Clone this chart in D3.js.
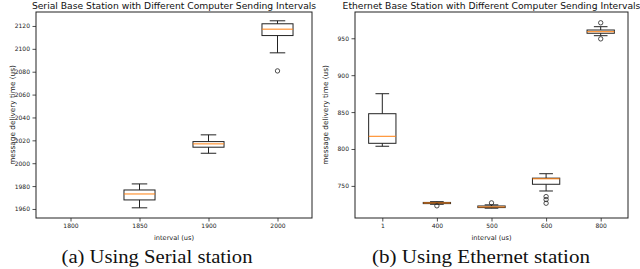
<!DOCTYPE html>
<html>
<head>
<meta charset="utf-8">
<script src="https://cdn.jsdelivr.net/npm/d3@7"></script>
<style>
  body { margin: 0; background: #fff; }
  svg { display: block; }
  .tick text { font-family: "DejaVu Sans", sans-serif; fill: #222; }
</style>
</head>
<body>
<div id="chart"></div>
<script>
// ----- data ----- //

// (a) serial station
var serialIntervals = ["1800", "1850", "1900", "2000"];
var serialWhisLo = [null, 1961, 2008.7, 2096.5];
var serialQ1 = [null, 1967.9, 2014, 2111.6];
var serialMed = [null, 1973.1, 2016.9, 2117.2];
var serialQ3 = [null, 1976.6, 2018.9, 2121.9];
var serialWhisHi = [null, 1981.9, 2024.8, 2124.5];
var serialFliers = [[], [], [], [2080.7]];
var serialTicks = [1960, 1980, 2000, 2020, 2040, 2060, 2080, 2100, 2120];

// (b) ethernet station
var ethIntervals = ["1", "400", "500", "600", "800"];
var ethWhisLo = [803.7, 725.1, 719.8, 743.1, 953.5];
var ethQ1 = [807.7, 726.0, 720.6, 752.2, 956.8];
var ethMed = [817.2, 726.9, 721.5, 759.6, 958.9];
var ethQ3 = [847.8, 727.6, 722.8, 760.5, 961.2];
var ethWhisHi = [874.9, 728.6, 724.3, 766.5, 965.7];
var ethFliers = [[], [723], [727], [735.5, 731.5, 726.5], [971, 949.2]];
var ethTicks = [750, 800, 850, 900, 950];

// ----- svg ----- //

var svg = d3.select("#chart")
    .append("svg")
    .attr("width", 640)
    .attr("height", 269);

function drawPanel(p) {

    var x = d3.scalePoint()
        .domain(p.cats)
        .range([p.left, p.right])
        .padding(0.5);

    var y = d3.scaleLinear()
        .domain(p.ydomain)
        .range([p.bottom, p.top]);

    var step = x.step();
    var bw = step * p.widthFrac;

    var g = svg.append("g");

    // boxes
    p.cats.forEach(function (c, i) {
        if (p.med[i] == null) return;
        var cx = x(c);
        var b = g.append("g").attr("class", "box");
        // whiskers
        b.append("line")
            .attr("x1", cx).attr("x2", cx)
            .attr("y1", y(p.q3[i])).attr("y2", y(p.hi[i]))
            .attr("stroke", "#222").attr("stroke-width", 1);
        b.append("line")
            .attr("x1", cx).attr("x2", cx)
            .attr("y1", y(p.q1[i])).attr("y2", y(p.lo[i]))
            .attr("stroke", "#222").attr("stroke-width", 1);
        // caps
        [p.hi[i], p.lo[i]].forEach(function (v) {
            b.append("line")
                .attr("x1", cx - bw / 4).attr("x2", cx + bw / 4)
                .attr("y1", y(v)).attr("y2", y(v))
                .attr("stroke", "#222").attr("stroke-width", 1);
        });
        // box
        b.append("rect")
            .attr("x", cx - bw / 2)
            .attr("y", y(p.q3[i]))
            .attr("width", bw)
            .attr("height", Math.max(0.5, y(p.q1[i]) - y(p.q3[i])))
            .attr("fill", "none")
            .attr("stroke", "#222")
            .attr("stroke-width", 1);
        // median
        b.append("line")
            .attr("x1", cx - bw / 2).attr("x2", cx + bw / 2)
            .attr("y1", y(p.med[i])).attr("y2", y(p.med[i]))
            .attr("stroke", "#ff7f0e").attr("stroke-width", 1);
        // fliers
        b.selectAll("circle")
            .data(p.fliers[i])
            .enter()
            .append("circle")
            .attr("cx", cx)
            .attr("cy", function (d) { return y(d); })
            .attr("r", 2.2)
            .attr("fill", "none")
            .attr("stroke", "#222")
            .attr("stroke-width", 0.8);
    });

    // axes
    var xAxis = g.append("g")
        .attr("transform", "translate(0," + p.bottom + ")")
        .call(d3.axisBottom(x).tickSize(3.5).tickPadding(2).tickSizeOuter(0));
    var yAxis = g.append("g")
        .attr("transform", "translate(" + p.left + ",0)")
        .call(d3.axisLeft(y).tickValues(p.ticks).tickFormat(d3.format("d")).tickSize(3.5).tickPadding(2.5).tickSizeOuter(0));

    [xAxis, yAxis].forEach(function (a) {
        a.select(".domain").remove();
        a.selectAll(".tick line").attr("stroke", "#222").attr("stroke-width", 0.8);
        a.selectAll(".tick text").attr("fill", "#222").style("font-size", "6px");
    });

    // frame
    g.append("rect")
        .attr("x", p.left)
        .attr("y", p.top)
        .attr("width", p.right - p.left)
        .attr("height", p.bottom - p.top)
        .attr("fill", "none")
        .attr("stroke", "#222")
        .attr("stroke-width", 1);

    // title
    var cx = (p.left + p.right) / 2;
    g.append("text")
        .attr("x", cx)
        .attr("y", 8.5)
        .attr("text-anchor", "middle")
        .style("font-family", "DejaVu Sans, sans-serif")
        .style("font-size", "9.2px")
        .style("fill", "#111")
        .text(p.title);

    // axis labels
    g.append("text")
        .attr("x", cx)
        .attr("y", p.bottom + 22)
        .attr("text-anchor", "middle")
        .style("font-family", "DejaVu Sans, sans-serif")
        .style("font-size", "6.6px")
        .style("fill", "#222")
        .text("interval (us)");

    g.append("text")
        .attr("transform", "translate(" + p.ylabelX + "," + (p.top + p.bottom) / 2 + ") rotate(-90)")
        .attr("text-anchor", "middle")
        .attr("dy", "0.35em")
        .style("font-family", "DejaVu Sans, sans-serif")
        .style("font-size", "7.3px")
        .style("fill", "#222")
        .text("message delivery time (us)");

    // caption
    g.append("text")
        .attr("x", p.captionX)
        .attr("y", 263)
        .attr("text-anchor", "middle")
        .attr("textLength", p.captionW)
        .attr("lengthAdjust", "spacingAndGlyphs")
        .style("font-family", "Liberation Serif, DejaVu Serif, serif")
        .style("font-size", "18.5px")
        .style("fill", "#111")
        .text(p.caption);
}

drawPanel({
    cats: serialIntervals,
    lo: serialWhisLo, q1: serialQ1, med: serialMed, q3: serialQ3, hi: serialWhisHi,
    fliers: serialFliers,
    ticks: serialTicks,
    ydomain: [1952.1, 2132.2],
    left: 36, right: 312, top: 12, bottom: 218,
    widthFrac: 0.45,
    ylabelX: 12,
    title: "Serial Base Station with Different Computer Sending Intervals",
    caption: "(a) Using Serial station",
    captionX: 157, captionW: 191
});

drawPanel({
    cats: ethIntervals,
    lo: ethWhisLo, q1: ethQ1, med: ethMed, q3: ethQ3, hi: ethWhisHi,
    fliers: ethFliers,
    ticks: ethTicks,
    ydomain: [706.5, 985.6],
    left: 355, right: 628, top: 12, bottom: 218,
    widthFrac: 0.5,
    ylabelX: 325,
    title: "Ethernet Base Station with Different Computer Sending Intervals",
    caption: "(b) Using Ethernet station",
    captionX: 481, captionW: 218
});
</script>
</body>
</html>
